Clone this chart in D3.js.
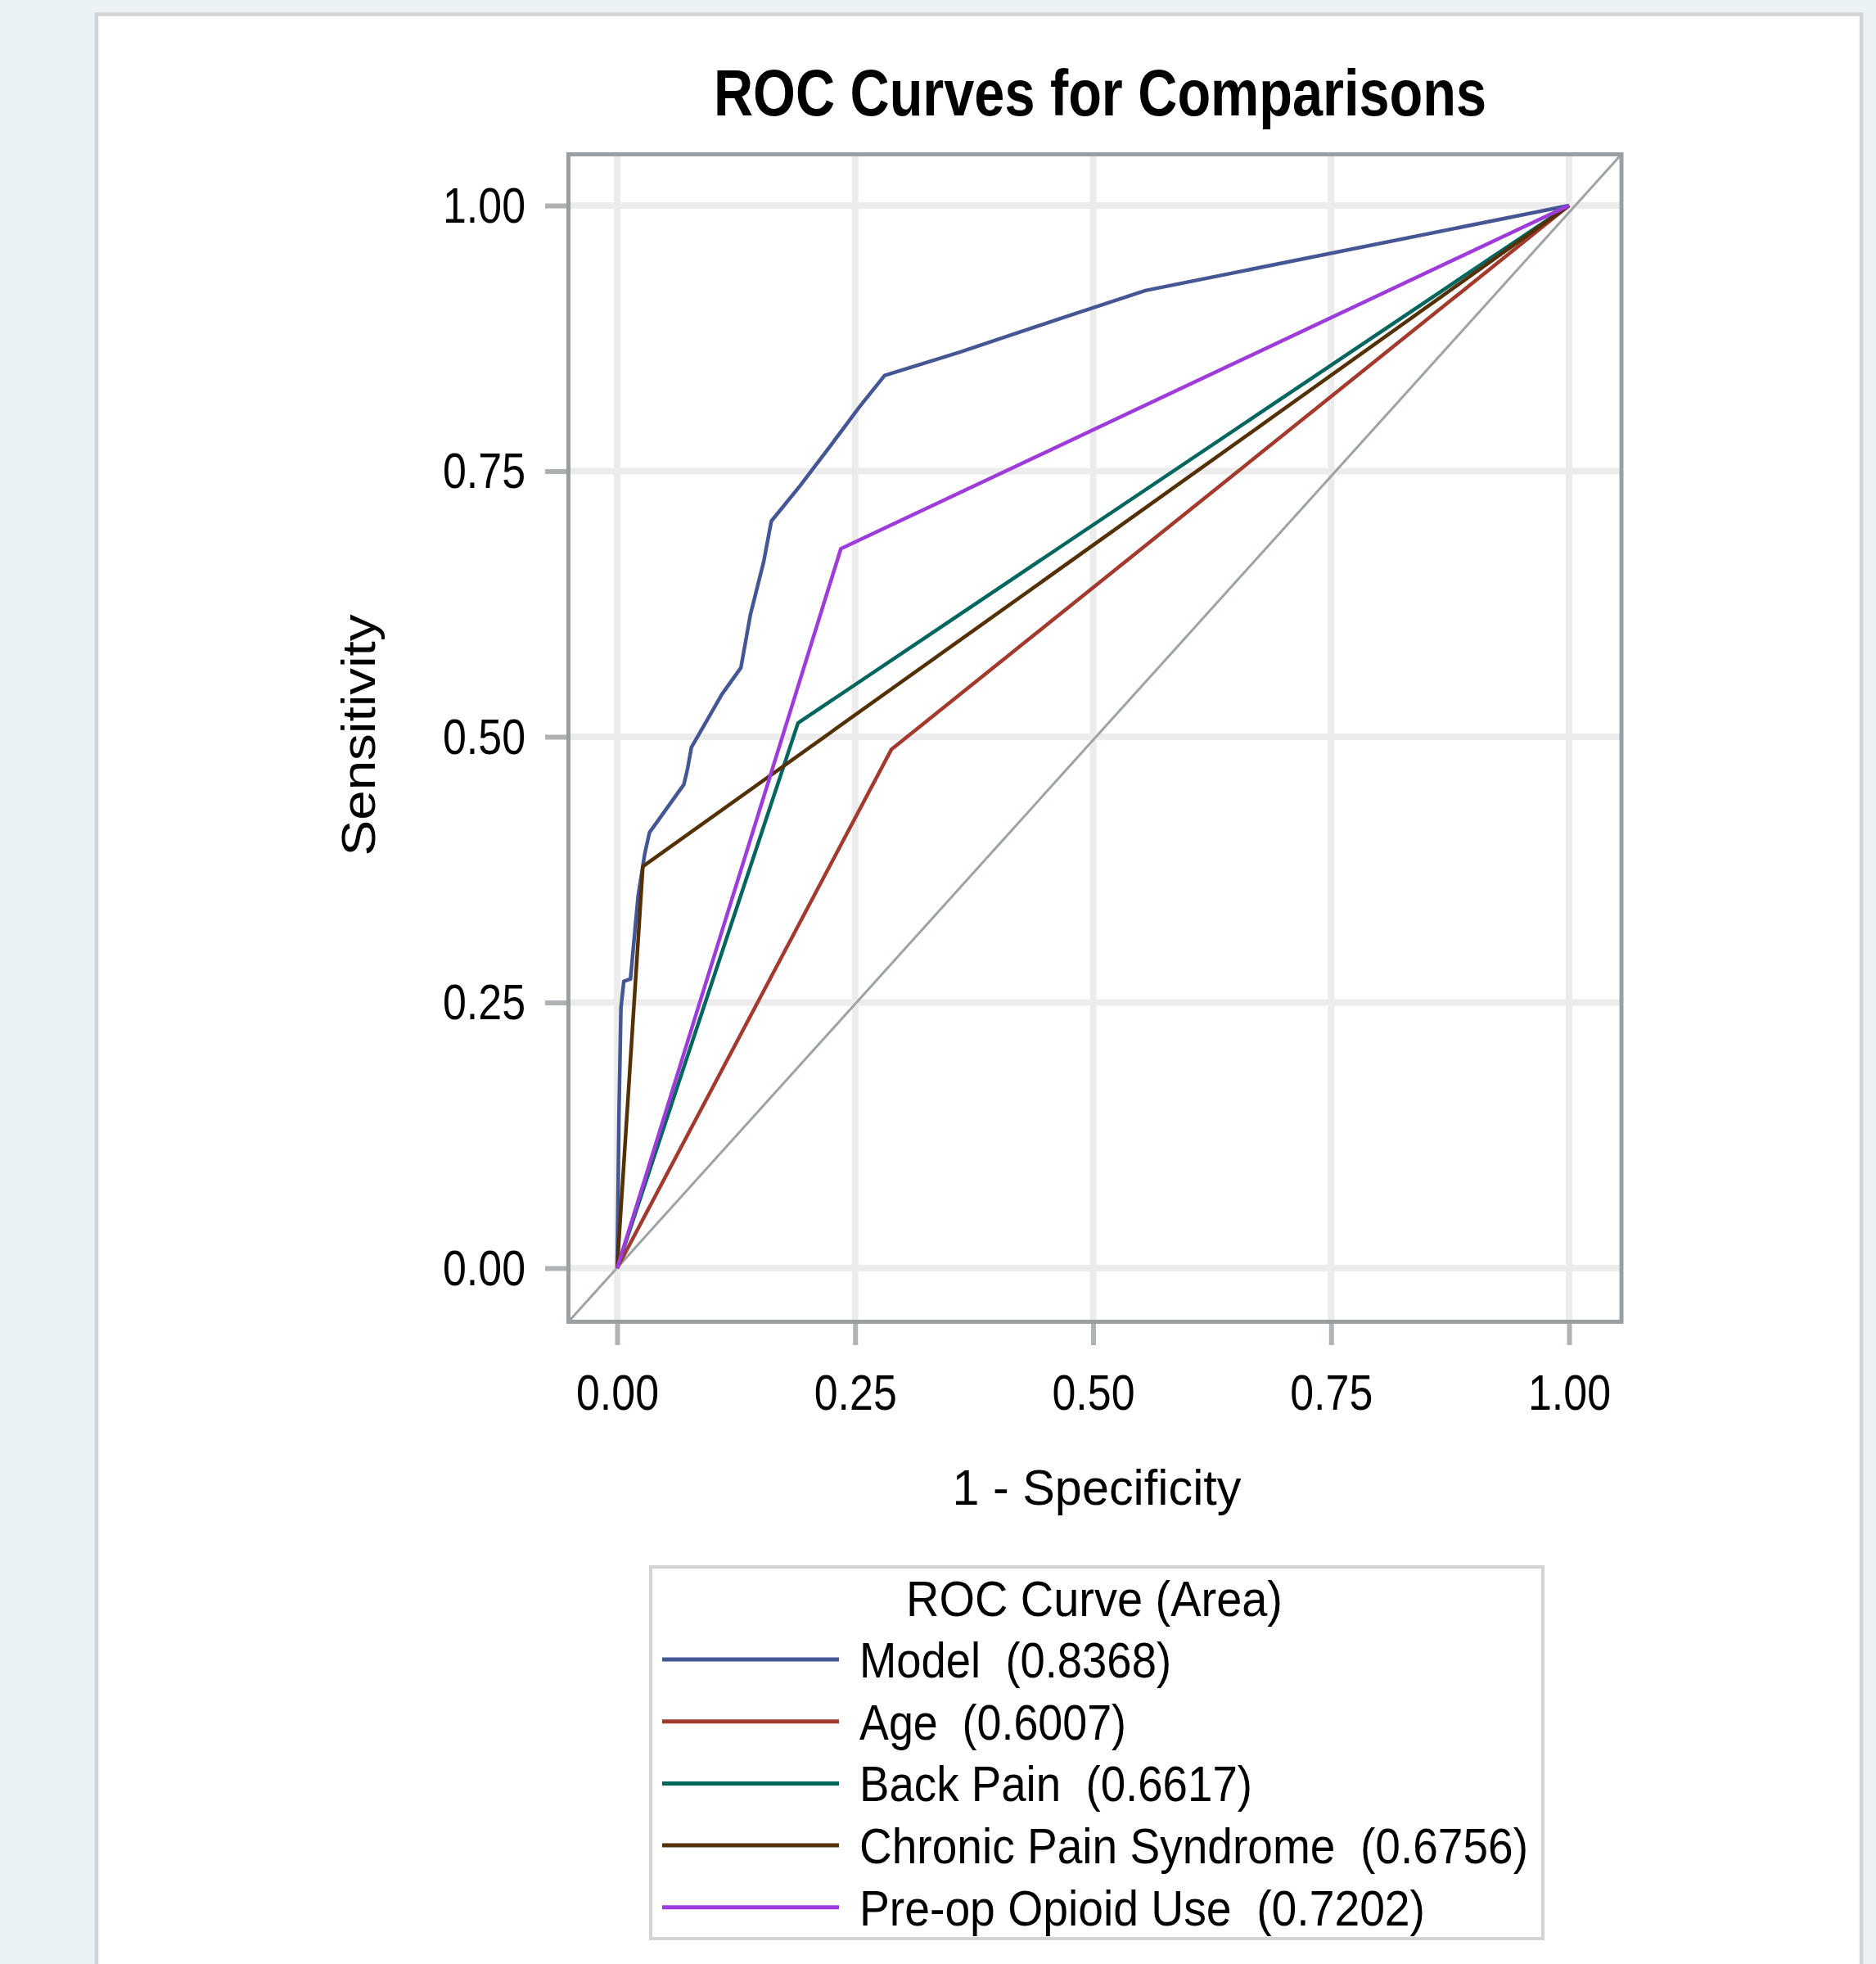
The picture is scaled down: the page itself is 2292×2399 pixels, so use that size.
<!DOCTYPE html>
<html>
<head>
<meta charset="utf-8">
<script src="https://cdn.jsdelivr.net/npm/d3@7"></script>
<style>
  html, body { margin: 0; padding: 0; background: #eaf2f5; }
  svg { display: block; }
  text { font-family: "Liberation Sans", Arial, sans-serif; fill: #000; white-space: pre; }
</style>
</head>
<body>
<script>
// ---------------- data ----------------
const categories = ["Model", "Age", "Back Pain", "Chronic Pain Syndrome", "Pre-op Opioid Use"];
const areas = ["0.8368", "0.6007", "0.6617", "0.6756", "0.7202"];
const colors = ["#445694", "#a23a2e", "#01665e", "#543005", "#9d3cdb"];

const modelFpr = [0, 0.002, 0.004, 0.007, 0.014, 0.022, 0.029, 0.034, 0.042, 0.058, 0.070, 0.074, 0.078, 0.094, 0.110, 0.130, 0.140, 0.154, 0.162, 0.192, 0.225, 0.255, 0.281, 0.36, 0.47, 0.555, 1];
const modelTpr = [0, 0.150, 0.245, 0.270, 0.272, 0.350, 0.390, 0.410, 0.420, 0.440, 0.455, 0.470, 0.490, 0.515, 0.540, 0.565, 0.615, 0.665, 0.703, 0.736, 0.775, 0.811, 0.840, 0.862, 0.895, 0.920, 1];
const ageFpr = [0, 0.288, 1];
const ageTpr = [0, 0.488, 1];
const backFpr = [0, 0.190, 1];
const backTpr = [0, 0.513, 1];
const chronicFpr = [0, 0.027, 1];
const chronicTpr = [0, 0.378, 1];
const opioidFpr = [0, 0.235, 1];
const opioidTpr = [0, 0.677, 1];

const tickValues = [0, 0.25, 0.5, 0.75, 1];
const tickLabels = ["0.00", "0.25", "0.50", "0.75", "1.00"];

const titleText = "ROC Curves for Comparisons";
const xTitle = "1 - Specificity";
const yTitle = "Sensitivity";
const legendTitle = "ROC Curve (Area)";

const fprs = [modelFpr, ageFpr, backFpr, chronicFpr, opioidFpr];
const tprs = [modelTpr, ageTpr, backTpr, chronicTpr, opioidTpr];
const series = categories.map((c, i) => ({
  name: c, area: areas[i], color: colors[i],
  points: fprs[i].map((f, j) => [f, tprs[i][j]])
}));

// ---------------- layout ----------------
const W = 2292, H = 2399;
const svg = d3.select("body").append("svg").attr("width", W).attr("height", H);

svg.append("rect").attr("x", 0).attr("y", 0).attr("width", W).attr("height", H).attr("fill", "#eaf2f5");
// white panel
svg.append("rect").attr("x", 118).attr("y", 17.5).attr("width", 2156).attr("height", 2450)
  .attr("fill", "#ffffff").attr("stroke", "#d2d4d6").attr("stroke-width", 4.5);

const x = d3.scaleLinear().domain([0, 1]).range([754, 1917]);
const y = d3.scaleLinear().domain([0, 1]).range([1549, 251]);
const frame = { left: 694.5, right: 1981, top: 188.5, bottom: 1614.5 };

// gridlines
const grid = svg.append("g");
grid.selectAll("line.gx").data(tickValues).join("line")
  .attr("x1", d => x(d)).attr("x2", d => x(d))
  .attr("y1", frame.top).attr("y2", frame.bottom)
  .attr("stroke", "#ececec").attr("stroke-width", 8);
grid.selectAll("line.gy").data(tickValues).join("line")
  .attr("y1", d => y(d)).attr("y2", d => y(d))
  .attr("x1", frame.left).attr("x2", frame.right)
  .attr("stroke", "#ececec").attr("stroke-width", 8);

// diagonal reference
svg.append("line")
  .attr("x1", frame.left).attr("y1", frame.bottom)
  .attr("x2", frame.right).attr("y2", frame.top)
  .attr("stroke", "#9ea3a6").attr("stroke-width", 3);

// curves
const line = d3.line().x(d => x(d[0])).y(d => y(d[1]));
svg.append("g").selectAll("path").data(series).join("path")
  .attr("d", d => line(d.points))
  .attr("fill", "none")
  .attr("stroke", d => d.color)
  .attr("stroke-width", 4.5)
  .attr("stroke-linejoin", "round");

// frame
svg.append("rect")
  .attr("x", frame.left).attr("y", frame.top)
  .attr("width", frame.right - frame.left).attr("height", frame.bottom - frame.top)
  .attr("fill", "none").attr("stroke", "#9a9fa3").attr("stroke-width", 5);

// axes
const fmt = d => tickLabels[tickValues.indexOf(d)];
const xAxis = svg.append("g").attr("transform", `translate(0,${frame.bottom + 2.5})`)
  .call(d3.axisBottom(x).tickValues(tickValues).tickFormat(fmt).tickSize(26).tickSizeOuter(0));
const yAxis = svg.append("g").attr("transform", `translate(${frame.left - 2.5},0)`)
  .call(d3.axisLeft(y).tickValues(tickValues).tickFormat(fmt).tickSize(26).tickSizeOuter(0));
[xAxis, yAxis].forEach(a => {
  a.select(".domain").remove();
  a.selectAll(".tick line").attr("stroke", "#aeb2b5").attr("stroke-width", 6);
  a.selectAll(".tick text").attr("font-size", 62).attr("fill", "#000")
    .attr("font-family", "Liberation Sans, Arial, sans-serif")
    .attr("textLength", 101).attr("lengthAdjust", "spacingAndGlyphs");
});
xAxis.selectAll(".tick text").attr("y", 1722 - (frame.bottom + 2.5)).attr("dy", 0);
yAxis.selectAll(".tick text").attr("x", -50).attr("dy", 20);

// titles
svg.append("text").text(titleText)
  .attr("x", 1344).attr("y", 141).attr("text-anchor", "middle")
  .attr("font-size", 79).attr("font-weight", "bold")
  .attr("textLength", 944).attr("lengthAdjust", "spacingAndGlyphs");

svg.append("text").text(xTitle)
  .attr("x", 1340).attr("y", 1838).attr("text-anchor", "middle")
  .attr("font-size", 62)
  .attr("textLength", 353).attr("lengthAdjust", "spacingAndGlyphs");

svg.append("text").text(yTitle)
  .attr("transform", "translate(458,898) rotate(-90)")
  .attr("text-anchor", "middle")
  .attr("font-size", 58)
  .attr("textLength", 295).attr("lengthAdjust", "spacingAndGlyphs");

// legend
const lg = svg.append("g");
lg.append("rect").attr("x", 795).attr("y", 1914).attr("width", 1090).attr("height", 454)
  .attr("fill", "#fff").attr("stroke", "#d3d3d3").attr("stroke-width", 4);
lg.append("text").text(legendTitle)
  .attr("x", 1337).attr("y", 1974).attr("text-anchor", "middle")
  .attr("font-size", 62)
  .attr("textLength", 460).attr("lengthAdjust", "spacingAndGlyphs");

const legendWidths = [381, 326, 480, 817, 691];
const rowY = i => 2027 + i * 75.7;
const rows = lg.selectAll("g.row").data(series).join("g").attr("class", "row");
rows.append("line")
  .attr("x1", 809).attr("x2", 1025)
  .attr("y1", (d, i) => rowY(i)).attr("y2", (d, i) => rowY(i))
  .attr("stroke", d => d.color).attr("stroke-width", 5);
rows.append("text")
  .text(d => `${d.name}  (${d.area})`)
  .attr("x", 1050).attr("y", (d, i) => rowY(i) + 22)
  .attr("font-size", 62)
  .attr("textLength", (d, i) => legendWidths[i]).attr("lengthAdjust", "spacingAndGlyphs");
</script>
</body>
</html>
